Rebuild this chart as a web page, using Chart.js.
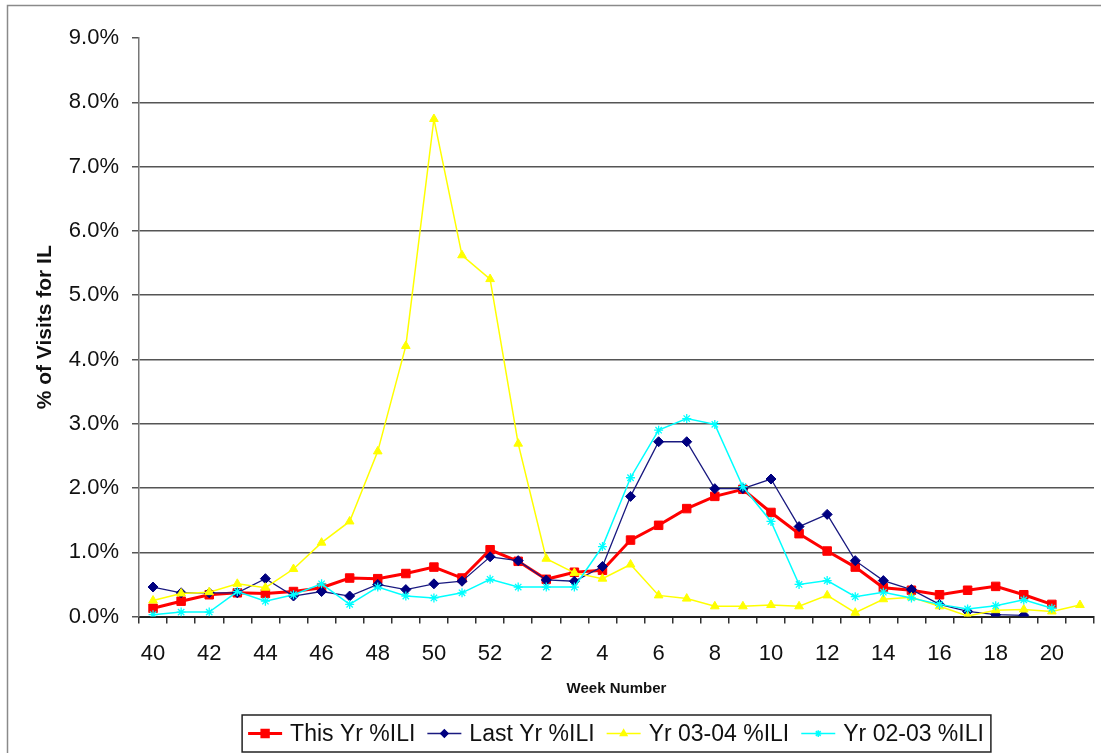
<!DOCTYPE html>
<html>
<head>
<meta charset="utf-8">
<script src="https://cdn.jsdelivr.net/npm/chart.js@4.4.1/dist/chart.umd.min.js"></script>
<style>
  html, body { margin: 0; padding: 0; background: #fff; overflow: hidden; }
  #wrap { position: relative; width: 1101px; height: 753px; }
  #wrap canvas { display: block; }
</style>
</head>
<body>
<div id="wrap"><canvas id="iliChart"></canvas></div>
<script>
// Week numbers (season starts at week 40)
const weeks = [40, 41, 42, 43, 44, 45, 46, 47, 48, 49, 50, 51, 52,
    1, 2, 3, 4, 5, 6, 7, 8, 9, 10, 11, 12, 13, 14, 15, 16, 17, 18, 19, 20, 21];

// % of visits for ILI
const thisYr = [0.13, 0.24, 0.34, 0.37, 0.36, 0.39, 0.45, 0.60, 0.59, 0.67, 0.77, 0.60, 1.04,
    0.86, 0.58, 0.69, 0.72, 1.19, 1.42, 1.68, 1.87, 1.98, 1.62, 1.29, 1.02, 0.77, 0.45,
    0.41, 0.34, 0.41, 0.47, 0.34, 0.19, null];
const lastYr = [0.46, 0.37, 0.37, 0.37, 0.59, 0.32, 0.39, 0.32, 0.50, 0.42, 0.51, 0.55, 0.93,
    0.87, 0.57, 0.55, 0.78, 1.87, 2.72, 2.72, 1.99, 1.99, 2.14, 1.40, 1.59, 0.87, 0.56,
    0.42, 0.19, 0.08, 0.03, 0.02, null, null];
const yr0304 = [0.25, 0.36, 0.38, 0.51, 0.45, 0.74, 1.15, 1.48, 2.57, 4.21, 7.74, 5.62, 5.25,
    2.69, 0.90, 0.68, 0.59, 0.81, 0.33, 0.28, 0.16, 0.16, 0.18, 0.16, 0.33, 0.06, 0.27,
    0.30, 0.16, 0.01, 0.10, 0.11, 0.08, 0.18];
const yr0203 = [0.03, 0.07, 0.07, 0.39, 0.24, 0.34, 0.51, 0.19, 0.46, 0.32, 0.29, 0.37, 0.58,
    0.46, 0.46, 0.46, 1.09, 2.16, 2.90, 3.08, 2.99, 2.02, 1.48, 0.50, 0.56, 0.31, 0.38,
    0.29, 0.19, 0.12, 0.17, 0.26, 0.13, null];

const seriesNames = ["This Yr %ILI", "Last Yr %ILI", "Yr 03-04 %ILI", "Yr 02-03 %ILI"];

const FONT = "'Liberation Sans', Arial, sans-serif";

// white background + thin grey frame around the whole figure
const framePlugin = {
    id: "frame",
    beforeDraw(chart) {
        const ctx = chart.ctx;
        ctx.save();
        ctx.fillStyle = "#fff";
        ctx.fillRect(0, 0, chart.width, chart.height);
        ctx.strokeStyle = "#8a8a8a";
        ctx.lineWidth = 1.5;
        ctx.strokeRect(7.5, 5.5, chart.width + 20, chart.height + 20);
        ctx.restore();
    }
};

// boxed legend under the axis title, like the Excel one
const boxLegend = {
    id: "boxLegend",
    afterDraw(chart) {
        const ctx = chart.ctx;
        const sample = 34, gapText = 8, gapItem = 12, padL = 6, padR = 7;
        ctx.save();
        ctx.font = "23px " + FONT;
        const items = chart.data.datasets.map(ds => ({ ds, w: ctx.measureText(ds.label).width }));
        let total = padL + padR;
        items.forEach((it, i) => {
            total += sample + gapText + it.w + (i < items.length - 1 ? gapItem : 0);
        });
        const cx = (chart.chartArea.left + chart.chartArea.right) / 2;
        const top = 715, bottom = 752;
        let x = cx - total / 2;
        ctx.strokeStyle = "#222";
        ctx.lineWidth = 1.5;
        ctx.strokeRect(x, top, total, bottom - top);
        const my = (top + bottom) / 2;
        x += padL;
        items.forEach(it => {
            const ds = it.ds;
            ctx.strokeStyle = ds.borderColor;
            ctx.lineWidth = ds.borderWidth;
            ctx.beginPath();
            ctx.moveTo(x, my);
            ctx.lineTo(x + sample, my);
            ctx.stroke();
            ctx.fillStyle = ds.pointBackgroundColor;
            ctx.strokeStyle = ds.pointBorderColor;
            Chart.helpers.drawPoint(ctx, {
                pointStyle: ds.pointStyle,
                radius: ds.pointRadius * 0.75,
                borderWidth: ds.pointBorderWidth,
                rotation: 0
            }, x + sample / 2, my);
            x += sample + gapText;
            ctx.fillStyle = "#111";
            ctx.textBaseline = "middle";
            ctx.textAlign = "left";
            ctx.fillText(ds.label, x, my + 1);
            x += it.w + gapItem;
        });
        ctx.restore();
    }
};

const ctxIli = document.getElementById("iliChart").getContext("2d");
new Chart(ctxIli, {
    type: "line",
    data: {
        labels: weeks,
        datasets: [
            {
                label: seriesNames[0],
                data: thisYr,
                borderColor: "#ff0000",
                backgroundColor: "#ff0000",
                pointBackgroundColor: "#ff0000",
                pointBorderColor: "#ff0000",
                borderWidth: 3,
                pointStyle: "rect",
                pointRadius: 6,
                pointBorderWidth: 1,
                order: 4
            },
            {
                label: seriesNames[1],
                data: lastYr,
                borderColor: "#1a1a80",
                backgroundColor: "#000080",
                pointBackgroundColor: "#000080",
                pointBorderColor: "#000080",
                borderWidth: 1.3,
                pointStyle: "rectRot",
                pointRadius: 5,
                pointBorderWidth: 1,
                order: 3
            },
            {
                label: seriesNames[2],
                data: yr0304,
                borderColor: "#ffff00",
                backgroundColor: "#ffff00",
                pointBackgroundColor: "#ffff00",
                pointBorderColor: "#ffff00",
                borderWidth: 1.5,
                pointStyle: "triangle",
                pointRadius: 5,
                pointBorderWidth: 1,
                order: 2
            },
            {
                label: seriesNames[3],
                data: yr0203,
                borderColor: "#00ffff",
                backgroundColor: "#00ffff",
                pointBackgroundColor: "#00ffff",
                pointBorderColor: "#00ffff",
                borderWidth: 1.5,
                pointStyle: "star",
                pointRadius: 4.5,
                pointBorderWidth: 1.3,
                order: 1
            }
        ]
    },
    options: {
        responsive: true,
        maintainAspectRatio: false,
        animation: false,
        layout: {
            padding: { left: 8, right: 0, top: 38, bottom: 51 }
        },
        plugins: {
            legend: { display: false },
            tooltip: { enabled: false }
        },
        scales: {
            x: {
                offset: true,
                afterFit: function (scale) {
                    scale.paddingRight = 0;
                },
                grid: {
                    offset: true,
                    drawOnChartArea: false,
                    tickLength: 7,
                    tickColor: "#333",
                    lineWidth: 1.5
                },
                border: { color: "#222", width: 2 },
                ticks: {
                    autoSkip: false,
                    maxRotation: 0,
                    padding: 17,
                    color: "#111",
                    font: { family: FONT, size: 22 },
                    callback: function (value, index) {
                        return index % 2 === 0 ? String(weeks[index]) : "";
                    }
                },
                title: {
                    display: true,
                    text: "Week Number",
                    color: "#111",
                    font: { family: FONT, size: 15, weight: "bold" },
                    padding: { top: -4, bottom: 4 }
                }
            },
            y: {
                min: 0,
                max: 9,
                afterFit: function (scale) {
                    scale.width = 131;
                },
                grid: {
                    color: function (c) {
                        return c.tick && c.tick.value === 9 ? "rgba(0,0,0,0)" : "#555";
                    },
                    tickColor: "#555",
                    tickLength: 7,
                    lineWidth: 1.5
                },
                border: { color: "#777", width: 1.5 },
                ticks: {
                    stepSize: 1,
                    padding: 13,
                    color: "#111",
                    font: { family: FONT, size: 22 },
                    callback: function (value) {
                        return value.toFixed(1) + "%";
                    }
                },
                title: {
                    display: true,
                    text: "% of Visits for IL",
                    color: "#111",
                    font: { family: FONT, size: 21, weight: "bold" },
                    padding: { top: 25, bottom: 0 }
                }
            }
        }
    },
    plugins: [framePlugin, boxLegend]
});
</script>
</body>
</html>
